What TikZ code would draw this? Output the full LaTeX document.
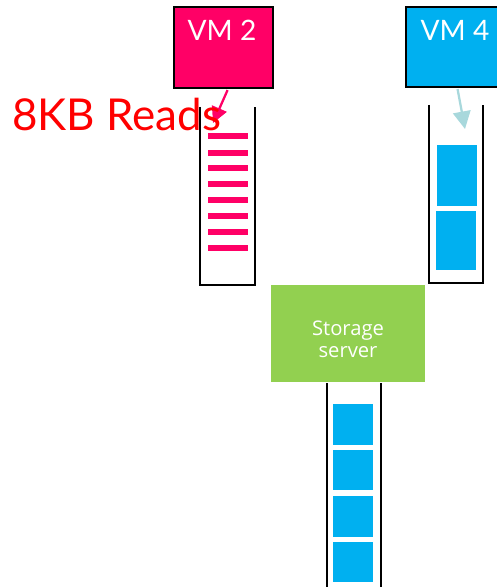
\documentclass[tikz,border=0pt]{standalone}
\usepackage{fontspec}
\setmainfont{Lato}
\newfontfamily\segfont{Open Sans}
\usepackage{tikz}
\usetikzlibrary{positioning, arrows.meta}
\definecolor{VMPink}{RGB}{255,0,102}
\definecolor{VMBlue}{RGB}{0,176,240}
\definecolor{SrvGreen}{RGB}{146,208,80}
\definecolor{ArrowTeal}{RGB}{168,216,220}
\definecolor{LabelRed}{RGB}{255,0,0}

\begin{document}
\begin{tikzpicture}[x=0.02cm, y=-0.02cm,
      vm/.style={rectangle, draw=black, line width=1.2pt, anchor=north west,
                 inner sep=0pt},
      vmlbl/.style={text=white, font=\fontsize{16}{18}\selectfont},
      srv/.style={rectangle, fill=SrvGreen, anchor=north west, inner sep=0pt,
                  minimum width=154*0.02cm, minimum height=97*0.02cm},
      srvlbl/.style={text=white, align=center,
                     font=\segfont\fontsize{11.5}{12.5}\selectfont},
      queue/.style={draw=black, line width=1.1pt},
      req/.style={fill=VMPink},
      blk/.style={fill=VMBlue}
    ]
    \useasboundingbox (0,0) rectangle (496,587);

    %--- VM 2 (left) ---
    \node[vm, fill=VMPink, minimum width=99*0.02cm, minimum height=81*0.02cm]
          (vm2) at (173,6) {};
    \node[vmlbl] (vm2lbl) at (222,30) {VM 2};
    \draw[queue] (200,107) |- (255,285) -- (255,107);
    % small reads in the queue
    \foreach \y in {136,153,168,184,200,216,232,248} {
      \fill[req] (208,\y-3) rectangle (248,\y+3);
    }
    \coordinate (q2in) at (213,123);
    \draw[VMPink, line width=1.3pt, -{Triangle[length=9pt, width=9pt]}]
          (vm2.south) ++(4,1) coordinate (v2out) -- (q2in);
    \node[text=LabelRed, anchor=base west, inner sep=0pt,
          font=\fontsize{25}{27}\selectfont] (rdlbl) at (12,131) {8KB Reads};

    %--- VM 4 (right) ---
    \node[vm, fill=VMBlue, minimum width=95*0.02cm, minimum height=80*0.02cm]
          (vm4) at (405,6) {};
    \node[vmlbl] (vm4lbl) at (455,30) {VM 4};
    \draw[queue] (429,105) |- (483,283) -- (483,105);
    % large blocks in the queue
    \fill[blk] (437,145) rectangle (477,206);
    \fill[blk] (436,211) rectangle (476,270);
    \coordinate (q4in) at (465,129);
    \draw[ArrowTeal, line width=1.3pt, -{Triangle[length=10pt, width=10pt]}]
          (vm4.south) ++(4,1) coordinate (v4out) -- (q4in);

    %--- Storage server (bottom) ---
    \node[srv] (srv) at (271,285) {};
    \node[srvlbl] (srvlbl) at (348,339) {Storage\\server};
    \draw[queue] (327,383) -- (327,587);
    \draw[queue] (381,383) -- (381,587);
    \foreach \t/\b in {404/445, 450/490, 496/537, 542/582} {
      \fill[blk] (333,\t) rectangle (373,\b);
    }
  \end{tikzpicture}
\end{document}
